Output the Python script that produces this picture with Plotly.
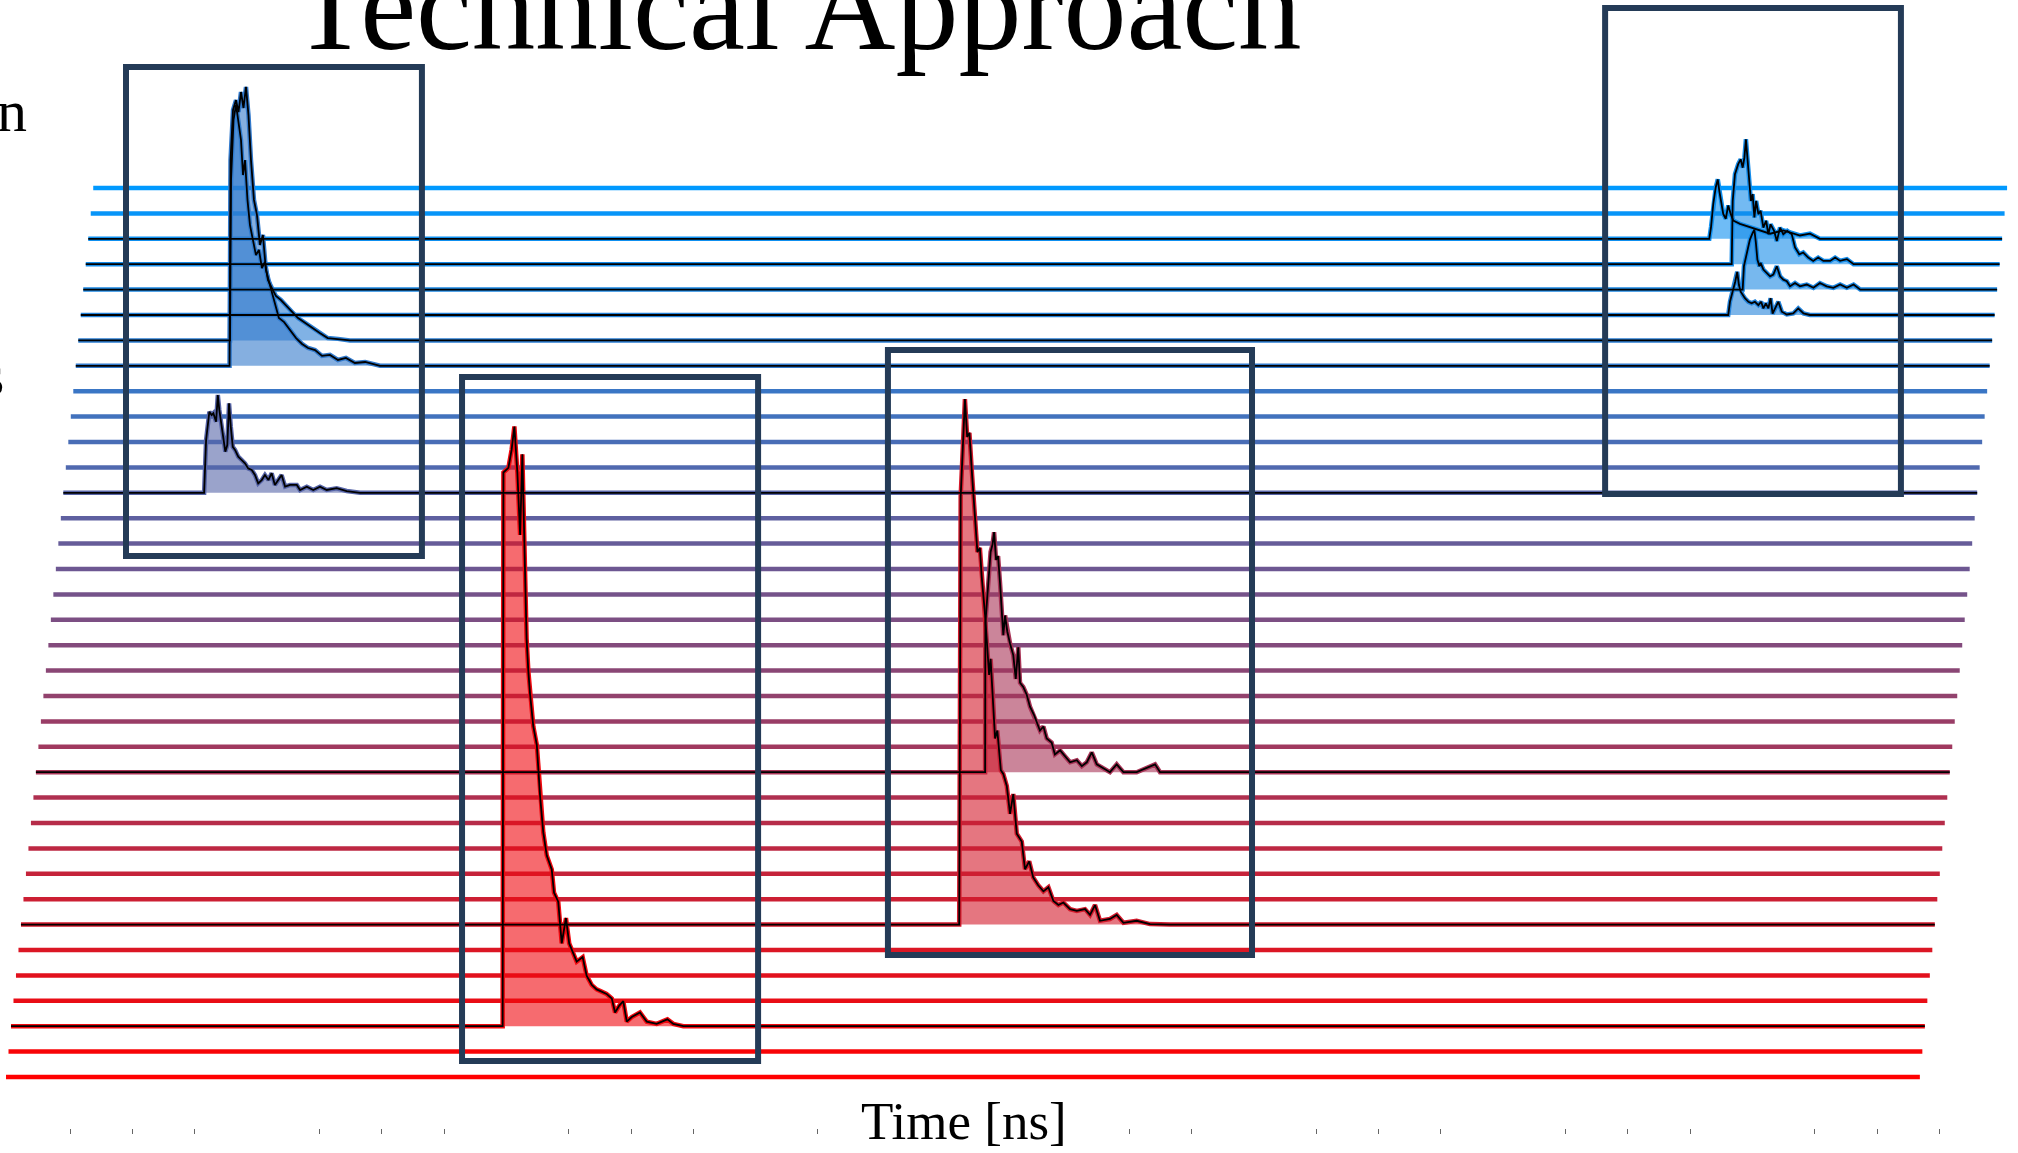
import plotly.graph_objects as go

# ---------------- data ----------------
n_traces = 36                      # stacked waveforms, index 0 = back (top)
trace_t_start = -0.08              # ns
trace_t_end = 76.72                # ns
shift_per_trace_ns = 0.1           # perspective shift of each waveform
highlighted_traces = [2, 3, 4, 5, 6, 7, 12, 23, 29, 33]

# pulses: time [ns] on the waveform's own axis, amplitude in trace-spacing units
pulse_t2 = [64.97, 65.04, 65.13, 65.23, 65.31, 65.37, 65.45, 65.53, 65.63, 65.73, 65.83, 65.93,
            66.20, 66.60, 67.00, 67.41, 67.94, 68.21, 68.61, 69.01, 69.41]
pulse_a2 = [0, 0.46, 1.38, 2.03, 2.34, 1.90, 1.38, 0.98, 0.79, 1.31, 0.98, 0.72,
            0.59, 0.46, 0.33, 0.20, 0.33, 0.26, 0.13, 0.20, 0]

pulse_t3 = [65.97, 66.01, 66.10, 66.23, 66.33, 66.41, 66.48, 66.54, 66.61, 66.68, 66.74, 66.81,
            66.88, 66.95, 67.04, 67.13, 67.24, 67.35, 67.44, 67.53, 67.67, 67.78, 67.91, 68.04,
            68.20, 68.38, 68.51, 68.68, 68.84, 69.04, 69.24, 69.44, 69.65, 69.92, 70.12, 70.32,
            70.59, 70.86]
pulse_a3 = [0, 2.49, 3.54, 3.94, 4.13, 3.80, 4.20, 4.92, 4.07, 3.02, 2.49, 2.76,
            1.84, 2.49, 1.97, 2.10, 1.44, 1.71, 1.18, 1.57, 1.31, 0.91, 1.44, 1.18,
            1.31, 1.18, 0.66, 0.39, 0.46, 0.26, 0.13, 0.26, 0.13, 0.13, 0.26, 0.13,
            0.20, 0]

pulse_t4 = [66.51, 66.56, 66.67, 66.80, 66.91, 66.98, 67.04, 67.10, 67.18, 67.23, 67.34, 67.47,
            67.61, 67.74, 67.88, 68.01, 68.14, 68.28, 68.41, 68.61, 68.81, 69.08, 69.35, 69.61,
            69.88, 70.15, 70.42, 70.69, 70.96, 71.23]
pulse_a4 = [0, 0.92, 1.44, 1.97, 2.23, 2.36, 1.84, 1.18, 0.92, 1.05, 0.79, 0.66,
            0.52, 0.59, 0.92, 0.52, 0.39, 0.33, 0.13, 0.26, 0.13, 0.20, 0.07, 0.26,
            0.13, 0.07, 0.20, 0.07, 0.20, 0]

pulse_t5 = [66.03, 66.10, 66.21, 66.31, 66.39, 66.46, 66.53, 66.61, 66.70, 66.84, 66.97, 67.10,
            67.24, 67.35, 67.44, 67.54, 67.64, 67.73, 67.81, 67.91, 68.04, 68.18, 68.38, 68.64,
            68.84, 69.05, 69.31]
pulse_a5 = [0, 0.52, 0.92, 1.31, 1.70, 1.18, 0.92, 0.79, 0.66, 0.52, 0.46, 0.52,
            0.39, 0.52, 0.26, 0.46, 0.26, 0.66, 0.05, 0.26, 0.52, 0.13, 0.02, 0.06,
            0.26, 0.06, 0]

pulse_t6 = [6.01, 6.05, 6.15, 6.25, 6.35, 6.45, 6.53, 6.61, 6.71, 6.81, 6.93, 7.05, 7.17, 7.29,
            7.41, 7.53, 7.69, 7.85, 8.05, 8.26, 8.50, 8.74, 8.97, 9.29, 9.61, 9.93, 10.34, 10.82]
pulse_a6 = [0, 6.31, 8.68, 9.27, 8.48, 7.89, 6.51, 7.10, 5.53, 4.54, 3.95, 3.36, 3.56, 2.85,
            3.09, 2.38, 2.06, 1.75, 1.59, 1.35, 1.12, 0.88, 0.72, 0.49, 0.29, 0.09, 0.06, 0]

pulse_t7 = [6.09, 6.13, 6.23, 6.35, 6.45, 6.55, 6.65, 6.75, 6.85, 6.95, 7.07, 7.19, 7.31, 7.43,
            7.55, 7.71, 7.87, 8.07, 8.28, 8.52, 8.76, 9.00, 9.24, 9.52, 9.80, 10.12, 10.44,
            10.76, 11.12, 11.53, 12.13]
pulse_a7 = [0, 8.10, 10.07, 10.46, 9.99, 10.78, 10.15, 10.98, 9.87, 8.10, 6.53, 5.94, 4.76, 5.15,
            3.77, 3.18, 2.59, 1.88, 1.72, 1.41, 1.09, 0.86, 0.70, 0.62, 0.39, 0.43, 0.23,
            0.31, 0.11, 0.15, 0]

pulse_t12 = [5.57, 5.65, 5.78, 5.87, 5.94, 6.05, 6.12, 6.18, 6.26, 6.34, 6.42, 6.50, 6.57, 6.64,
             6.72, 6.81, 6.94, 7.08, 7.21, 7.34, 7.48, 7.61, 7.74, 7.88, 8.01, 8.15, 8.28, 8.41,
             8.55, 8.68, 8.82, 9.02, 9.29, 9.42, 9.69, 9.95, 10.22, 10.49, 10.89, 11.29, 11.83]
pulse_a12 = [0, 2.08, 3.19, 3.06, 3.13, 2.80, 3.85, 3.26, 2.67, 2.21, 1.62, 1.88, 3.52, 2.60,
             1.81, 1.69, 1.42, 1.29, 1.16, 0.96, 0.90, 0.70, 0.37, 0.50, 0.70, 0.50, 0.77, 0.31,
             0.50, 0.70, 0.24, 0.31, 0.31, 0.11, 0.24, 0.11, 0.24, 0.11, 0.18, 0.07, 0]

pulse_t23 = [38.01, 38.02, 38.14, 38.23, 38.31, 38.37, 38.45, 38.53, 38.61, 38.67, 38.74, 38.81,
             38.90, 39.01, 39.14, 39.24, 39.34, 39.41, 39.54, 39.68, 39.81, 39.97, 40.08, 40.21,
             40.35, 40.48, 40.68, 40.81, 41.02, 41.22, 41.42, 41.69, 41.89, 42.09, 42.29, 42.49,
             42.75, 43.02, 43.29, 43.56, 44.09, 44.83, 45.03]
pulse_a23 = [0, 5.86, 7.73, 8.67, 8.98, 9.45, 8.36, 8.51, 7.42, 6.33, 5.39, 6.17,
             5.54, 5.07, 4.61, 3.67, 4.92, 3.52, 3.36, 3.05, 2.58, 2.26, 1.95, 1.64,
             1.80, 1.33, 1.17, 0.70, 0.86, 0.62, 0.39, 0.47, 0.24, 0.39, 0.78, 0.31,
             0.15, 0, 0.31, 0, 0, 0.31, 0]

pulse_t29 = [37.57, 37.63, 37.73, 37.80, 37.89, 37.98, 38.07, 38.16, 38.24, 38.30, 38.40, 38.47,
             38.61, 38.67, 38.77, 38.83, 38.91, 39.01, 39.10, 39.24, 39.34, 39.48, 39.61, 39.74,
             39.88, 40.08, 40.21, 40.38, 40.54, 40.74, 40.95, 41.15, 41.35, 41.55, 41.75, 42.02,
             42.29, 42.62, 42.82, 43.02, 43.22, 43.62, 43.89, 44.16, 44.69, 45.23, 46.03]
pulse_a29 = [0, 16.86, 19.52, 20.69, 19.20, 19.36, 17.95, 16.55, 15.61, 14.67, 14.83, 13.74,
             12.17, 11.24, 9.83, 10.46, 9.20, 7.33, 7.64, 6.08, 5.93, 5.46, 4.36, 5.14,
             3.58, 3.27, 2.18, 2.49, 1.86, 1.55, 1.31, 1.47, 0.93, 0.77, 0.87, 0.61,
             0.54, 0.61, 0.38, 0.77, 0.15, 0.22, 0.38, 0.07, 0.15, 0.02, 0]

pulse_t33 = [19.65, 19.68, 19.88, 20.01, 20.12, 20.24, 20.35, 20.44, 20.51, 20.61, 20.68, 20.75,
             20.88, 21.02, 21.15, 21.28, 21.42, 21.62, 21.71, 21.88, 22.02, 22.19, 22.32, 22.48,
             22.62, 22.86, 23.02, 23.22, 23.42, 23.62, 23.82, 24.03, 24.16, 24.33, 24.49, 24.63,
             24.83, 25.16, 25.43, 25.83, 26.26, 26.50, 26.90]
pulse_a33 = [0, 21.80, 21.98, 22.70, 23.61, 21.80, 19.34, 22.52, 19.07, 15.26, 13.98, 13.07,
             11.80, 11.08, 9.08, 7.63, 6.72, 6.17, 5.26, 4.90, 3.26, 4.26, 3.26, 2.90,
             2.54, 2.72, 1.99, 1.63, 1.45, 1.36, 1.27, 1.09, 0.54, 0.81, 0.99, 0.18,
             0.36, 0.54, 0.18, 0.09, 0.27, 0.09, 0]

pulses = {2: (pulse_t2, pulse_a2), 3: (pulse_t3, pulse_a3), 4: (pulse_t4, pulse_a4),
          5: (pulse_t5, pulse_a5), 6: (pulse_t6, pulse_a6), 7: (pulse_t7, pulse_a7),
          12: (pulse_t12, pulse_a12), 23: (pulse_t23, pulse_a23), 29: (pulse_t29, pulse_a29),
          33: (pulse_t33, pulse_a33)}

# highlight boxes (time range [ns], level range in trace units)
box_t0 = [4.735, 18.22, 35.31, 64.09]
box_t1 = [16.61, 30.10, 49.92, 75.96]
box_y0 = [20.51, 0.63, 4.80, 22.95]
box_y1 = [39.76, 27.56, 28.62, 42.09]

title_text = "Technical Approach"
xlabel_text = "Time [ns]"

# ---------------- styling ----------------
color_back = (0, 153, 255)
color_front = (255, 0, 0)
fill_alpha = 0.6
box_color = "#243B57"
serif = "Liberation Serif"

W, H = 2018, 1153
MB = 25
PX_PER_NS = 24.92
PX_PER_UNIT = 25.4
X0_PX = 8.0          # pixel of t = 0
BASE_PX = 1077.0     # pixel of level 0 (front waveform)

def trace_color(i):
    f = i / (n_traces - 1)
    return tuple(round(a + (b - a) * f) for a, b in zip(color_back, color_front))

fig = go.Figure()

signals = []
for i in range(n_traces):
    shift = (n_traces - 1 - i) * shift_per_trace_ns
    level = n_traces - 1 - i
    t = [trace_t_start]
    a = [0.0]
    if i in pulses:
        t += list(pulses[i][0])
        a += list(pulses[i][1])
    t.append(trace_t_end)
    a.append(0.0)
    xs = [v + shift for v in t]
    ys = [level + v for v in a]
    signals.append((xs, ys, shift, level))

# layer 1: coloured waveforms
for i, (xs, ys, shift, level) in enumerate(signals):
    r, g, b = trace_color(i)
    fig.add_trace(go.Scatter(x=xs, y=ys, mode="lines",
                             line=dict(color=f"rgb({r},{g},{b})", width=4.5),
                             hoverinfo="skip", showlegend=False))

# layer 2: pulse fills
for i in sorted(pulses):
    pt, pa = pulses[i]
    xs, ys, shift, level = signals[i]
    px = [v + shift for v in pt]
    py_ = [level + v for v in pa]
    px = px + [px[-1], px[0]]
    py_ = py_ + [level, level]
    r, g, b = trace_color(i)
    fig.add_trace(go.Scatter(x=px, y=py_, mode="lines", fill="toself",
                             fillcolor=f"rgba({r},{g},{b},{fill_alpha})",
                             line=dict(width=0, color="rgba(0,0,0,0)"),
                             hoverinfo="skip", showlegend=False))

# layer 3: black overlays
for i in highlighted_traces:
    xs, ys, shift, level = signals[i]
    fig.add_trace(go.Scatter(x=xs, y=ys, mode="lines",
                             line=dict(color="black", width=1.8),
                             hoverinfo="skip", showlegend=False))

for k in range(len(box_t0)):
    fig.add_shape(type="rect", xref="x", yref="y",
                  x0=box_t0[k], x1=box_t1[k], y0=box_y0[k], y1=box_y1[k],
                  line=dict(color=box_color, width=6), fillcolor="rgba(0,0,0,0)")

plot_h = H - MB

def py(px_y):
    return 1 - px_y / plot_h

def pxx(px_x):
    return px_x / W

fig.add_annotation(text=title_text, xref="paper", yref="paper", x=pxx(796), y=py(6),
                   xanchor="center", yanchor="middle", showarrow=False,
                   font=dict(family=serif, size=126, color="black"))
fig.add_annotation(text="n", xref="paper", yref="paper", x=pxx(29), y=py(111),
                   xanchor="right", yanchor="middle", showarrow=False,
                   font=dict(family=serif, size=60, color="black"))
fig.add_annotation(text="s", xref="paper", yref="paper", x=pxx(6), y=py(375),
                   xanchor="right", yanchor="middle", showarrow=False,
                   font=dict(family=serif, size=60, color="black"))
fig.add_annotation(text=xlabel_text, xref="paper", yref="paper", x=pxx(964), y=py(1121),
                   xanchor="center", yanchor="middle", showarrow=False, bgcolor="white",
                   font=dict(family=serif, size=53, color="black"))

fig.update_layout(
    width=W, height=H,
    margin=dict(l=0, r=0, t=0, b=MB, pad=0),
    paper_bgcolor="white", plot_bgcolor="white",
    showlegend=False,
    xaxis=dict(range=[-X0_PX / PX_PER_NS, (W - X0_PX) / PX_PER_NS],
               showgrid=False, zeroline=False, showline=False, showticklabels=False,
               ticks="outside", ticklen=0, tick0=0, dtick=10,
               minor=dict(ticks="outside", ticklen=5, tickwidth=1, tickcolor="#666",
                          dtick=2.5, tick0=0, showgrid=False)),
    yaxis=dict(range=[(BASE_PX - plot_h) / PX_PER_UNIT, BASE_PX / PX_PER_UNIT],
               visible=False, showgrid=False, zeroline=False),
)

fig.write_html("out.html")
